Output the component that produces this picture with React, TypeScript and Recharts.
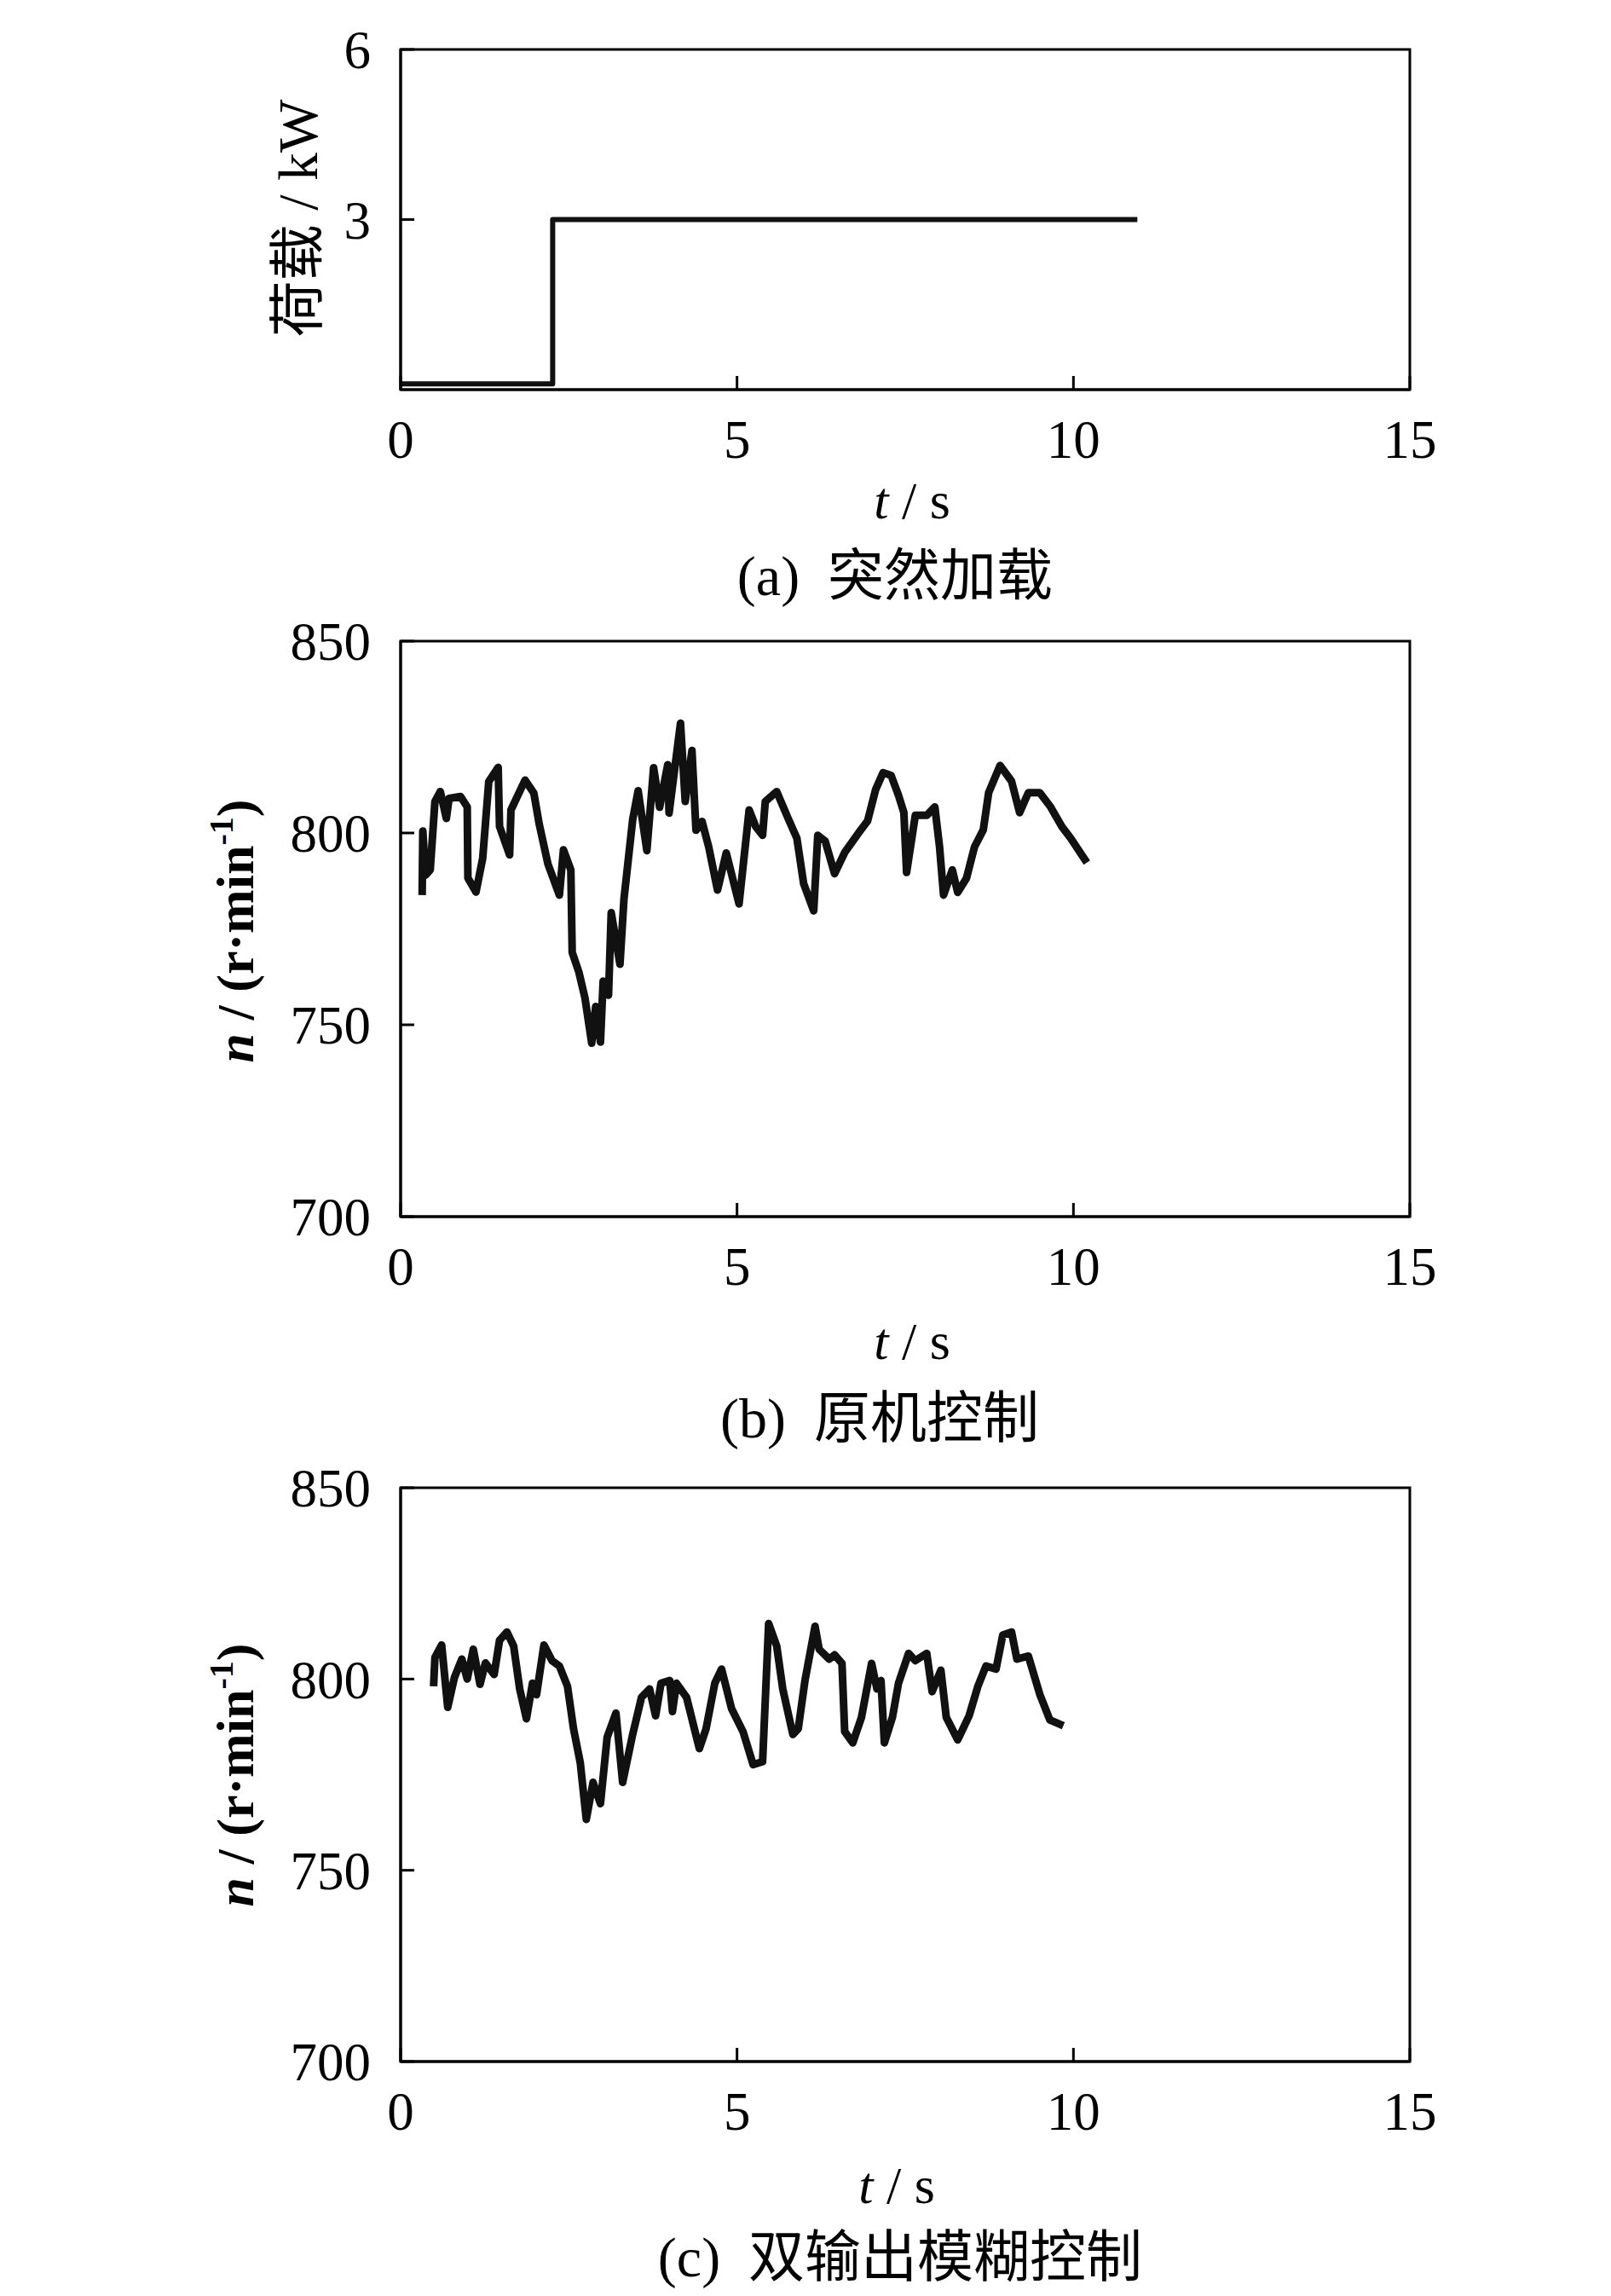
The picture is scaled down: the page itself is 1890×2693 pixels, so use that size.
import React from 'react';
import { LineChart, Line, XAxis, YAxis, ReferenceArea } from 'recharts';

const timeTicks = [0, 5, 10, 15];
const loadTicks = [3, 6];
const speedTicks = [700, 750, 800, 850];

// (a) sudden load step
const loadTime = [0, 2.26, 2.26, 10.95];
const loadKw = [0.1, 0.1, 3, 3];

// (b) original control
const timeB = [
  0.32, 0.33, 0.37, 0.44, 0.51, 0.59, 0.68, 0.72, 0.89, 0.99, 1.0, 1.12, 1.22, 1.31, 1.45, 1.47,
  1.62, 1.64, 1.85, 1.98, 2.06, 2.19, 2.36, 2.42, 2.53, 2.55, 2.65, 2.74, 2.84, 2.9, 2.97, 3.01,
  3.09, 3.13, 3.26, 3.32, 3.45, 3.53, 3.66, 3.76, 3.85, 3.97, 3.99, 4.16, 4.23, 4.33, 4.39, 4.48,
  4.58, 4.71, 4.84, 5.03, 5.18, 5.28, 5.38, 5.42, 5.59, 5.76, 5.89, 5.99, 6.14, 6.2, 6.31, 6.45,
  6.6, 6.81, 6.94, 7.06, 7.17, 7.29, 7.4, 7.48, 7.52, 7.65, 7.82, 7.94, 8.01, 8.07, 8.2, 8.28,
  8.41, 8.53, 8.66, 8.74, 8.91, 9.08, 9.2, 9.33, 9.5, 9.66, 9.83, 9.96, 10.2,
];
const speedB = [
  783.8, 800.5, 789, 790.4, 808.2, 810.8, 803.8, 809, 809.5, 806.8, 788.3, 784.6, 793.4, 813.4, 817.1, 801.7,
  794.3, 806, 813.8, 810.4, 802.3, 791.9, 783.8, 795.6, 790.4, 768.9, 763.7, 757, 745.2, 754.8, 745.5, 761.4,
  757.7, 779.2, 765.8, 782.9, 803.6, 811, 795.4, 817, 806.7, 817.8, 805.2, 828.6, 808.2, 821.5, 800.7, 803,
  796.3, 785.1, 794.8, 781.5, 806, 801.6, 799.4, 808.2, 810.8, 803.8, 798.6, 786.8, 779.7, 799.4, 797.9, 789.4,
  794.9, 800.1, 803.1, 811.3, 815.7, 815, 809.8, 805.3, 789.7, 804.6, 804.6, 806.8, 796.4, 783.8, 790.4, 784.5,
  788.2, 796.4, 800.8, 810.5, 817.6, 813.5, 805.3, 810.5, 810.5, 806.8, 801.6, 798.6, 792.3,
];

// (c) dual-output fuzzy control
const timeC = [
  0.49, 0.51, 0.61, 0.7, 0.8, 0.91, 0.99, 1.08, 1.18, 1.26, 1.39, 1.47, 1.58, 1.68, 1.77, 1.87,
  1.96, 2.02, 2.13, 2.25, 2.36, 2.48, 2.57, 2.67, 2.76, 2.86, 2.97, 3.07, 3.2, 3.3, 3.45, 3.58,
  3.7, 3.79, 3.87, 4.0, 4.04, 4.1, 4.25, 4.44, 4.54, 4.67, 4.77, 4.92, 5.09, 5.24, 5.38, 5.47,
  5.59, 5.68, 5.83, 5.91, 6.01, 6.16, 6.22, 6.37, 6.45, 6.56, 6.6, 6.72, 6.85, 7.0, 7.08, 7.14,
  7.19, 7.31, 7.4, 7.55, 7.65, 7.82, 7.9, 8.03, 8.11, 8.28, 8.45, 8.58, 8.7, 8.85, 8.95, 9.08,
  9.16, 9.33, 9.5, 9.65, 9.85,
];
const speedC = [
  798.1, 805.6, 808.9, 792.6, 800.4, 805.2, 800, 807.8, 798.6, 804.2, 801.2, 810.1, 812.3, 808.6, 797.4, 789.6,
  798.9, 795.9, 808.9, 804.8, 803.4, 798.1, 787, 778.1, 763.3, 773, 767.4, 784.8, 791.1, 773, 785.6, 795.2,
  797.4, 790.4, 798.9, 799.6, 791.5, 798.9, 795.2, 781.8, 787, 798.9, 802.6, 792.2, 786.2, 777.6, 778.4, 814.5,
  808.6, 797.4, 785.5, 787, 799.6, 813.8, 807.8, 805.2, 806.3, 804.1, 786.3, 783.3, 790, 804.1, 797.4, 799.6,
  783.3, 790, 798.9, 806.7, 804.8, 806.7, 796.7, 802.3, 790, 784.1, 790.4, 798.1, 803.4, 802.6, 811.5, 812.3,
  805.2, 806, 796, 789.3, 787.8,
];

const loadData = loadTime.map((t, i) => ({ t, v: loadKw[i] }));
const dataB = timeB.map((t, i) => ({ t, v: speedB[i] }));
const dataC = timeC.map((t, i) => ({ t, v: speedC[i] }));

const FONT = "'Liberation Serif', 'Times New Roman', 'Noto Sans CJK SC', serif";
const tickStyle = { fill: '#000', fontSize: 63, fontFamily: FONT };
const axisStyle = { stroke: '#000', strokeWidth: 3 };

const PAD = 60;
const PLOT_LEFT = 470;
const PLOT_RIGHT = 1654;

type PanelProps = {
  top: number;
  plotHeight: number;
  data: { t: number; v: number }[];
  domain: [number, number];
  yTicks: number[];
  lineWidth: number;
};

function Panel({ top, plotHeight, data, domain, yTicks, lineWidth }: PanelProps) {
  const yWidth = 140;
  const xHeight = 110;
  return (
    <div style={{ position: 'absolute', left: 0, top: top - PAD }}>
      <LineChart
        width={1890}
        height={PAD + plotHeight + xHeight}
        data={data}
        margin={{ top: PAD, right: 1890 - PLOT_RIGHT, bottom: 0, left: PLOT_LEFT - yWidth }}
      >
        <XAxis
          dataKey="t"
          type="number"
          domain={[0, 15]}
          ticks={timeTicks}
          interval={0}
          height={xHeight}
          tickSize={-16}
          tickMargin={51}
          axisLine={axisStyle}
          tickLine={axisStyle}
          tick={tickStyle}
        />
        <YAxis
          type="number"
          domain={domain}
          ticks={yTicks}
          interval={0}
          width={yWidth}
          tickSize={-16}
          tickMargin={51}
          axisLine={axisStyle}
          tickLine={axisStyle}
          tick={tickStyle}
        />
        <ReferenceArea
          x1={0}
          x2={15}
          y1={domain[0]}
          y2={domain[1]}
          fill="none"
          stroke="#000"
          strokeWidth={3}
          fillOpacity={0}
        />
        <Line
          dataKey="v"
          type="linear"
          stroke="#111"
          strokeWidth={lineWidth}
          strokeLinejoin="round"
          dot={false}
          isAnimationActive={false}
        />
      </LineChart>
    </div>
  );
}

function Titles() {
  return (
    <svg
      width={1890}
      height={2693}
      style={{ position: 'absolute', left: 0, top: 0, pointerEvents: 'none' }}
      fontFamily={FONT}
      fill="#000"
    >
      {/* (a) */}
      <text transform="translate(372,256) rotate(-90)" textAnchor="middle" fontSize={66}>
        荷载 / kW
      </text>
      <text x={1070} y={608} textAnchor="middle" fontSize={62}>
        <tspan fontStyle="italic">t</tspan> / s
      </text>
      <text x={1050} y={698} textAnchor="middle" fontSize={66} xmlSpace="preserve">
        (a)  突然加载
      </text>

      {/* (b) */}
      <text transform="translate(297,1092) rotate(-90)" textAnchor="middle" fontSize={62} fontWeight="bold">
        <tspan fontStyle="italic">n</tspan> / (r·min
        <tspan dy={-24} fontSize={40}>-1</tspan>
        <tspan dy={24}>)</tspan>
      </text>
      <text x={1070} y={1594} textAnchor="middle" fontSize={62}>
        <tspan fontStyle="italic">t</tspan> / s
      </text>
      <text x={1032} y={1686} textAnchor="middle" fontSize={66} xmlSpace="preserve">
        (b)  原机控制
      </text>

      {/* (c) */}
      <text transform="translate(297,2082) rotate(-90)" textAnchor="middle" fontSize={62} fontWeight="bold">
        <tspan fontStyle="italic">n</tspan> / (r·min
        <tspan dy={-24} fontSize={40}>-1</tspan>
        <tspan dy={24}>)</tspan>
      </text>
      <text x={1052} y={2584} textAnchor="middle" fontSize={62}>
        <tspan fontStyle="italic">t</tspan> / s
      </text>
      <text x={1056} y={2670} textAnchor="middle" fontSize={66} xmlSpace="preserve">
        (c)  双输出模糊控制
      </text>
    </svg>
  );
}

export default function App() {
  return (
    <div style={{ position: 'absolute', left: 0, top: 0, width: 1890, height: 2693, background: '#fff' }}>
      <Panel top={58} plotHeight={399} data={loadData} domain={[0, 6]} yTicks={loadTicks} lineWidth={6} />
      <Panel top={752} plotHeight={675} data={dataB} domain={[700, 850]} yTicks={speedTicks} lineWidth={9} />
      <Panel top={1745} plotHeight={673} data={dataC} domain={[700, 850]} yTicks={speedTicks} lineWidth={9} />
      <Titles />
    </div>
  );
}
